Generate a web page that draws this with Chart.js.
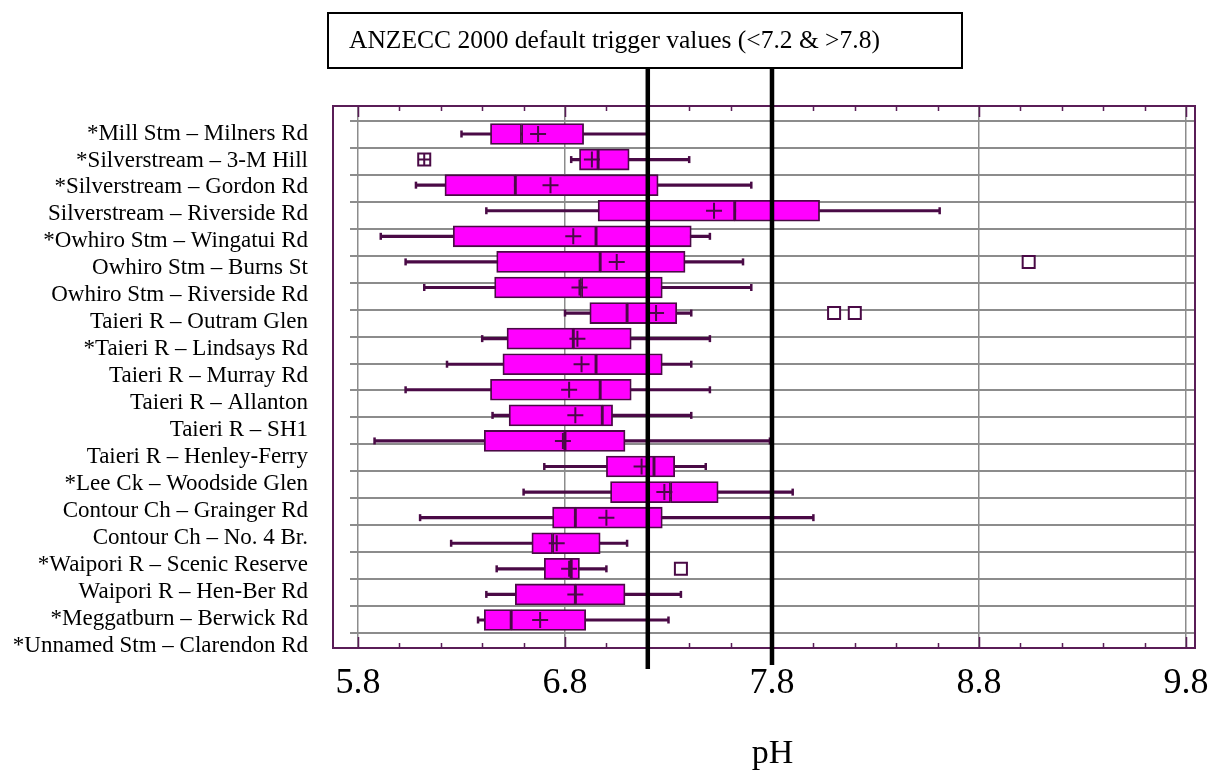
<!DOCTYPE html>
<html>
<head>
<meta charset="utf-8">
<script src="https://cdn.jsdelivr.net/npm/chart.js@4/dist/chart.umd.min.js"></script>
<style>
  body { margin: 0; background: #fff; }
  #wrap { width: 1212px; height: 770px; }
</style>
</head>
<body>
<div id="wrap"><canvas id="chart" width="1212" height="770"></canvas></div>
<script>
// pH box plots by site

const sites = [
    '*Mill Stm \u2013 Milners Rd',
    '*Silverstream \u2013 3-M Hill',
    '*Silverstream \u2013 Gordon Rd',
    'Silverstream \u2013 Riverside Rd',
    '*Owhiro Stm \u2013 Wingatui Rd',
    'Owhiro Stm \u2013 Burns St',
    'Owhiro Stm \u2013 Riverside Rd',
    'Taieri R \u2013 Outram Glen',
    '*Taieri R \u2013 Lindsays Rd',
    'Taieri R \u2013 Murray Rd',
    'Taieri R \u2013 Allanton',
    'Taieri R \u2013 SH1',
    'Taieri R \u2013 Henley-Ferry',
    '*Lee Ck \u2013 Woodside Glen',
    'Contour Ch \u2013 Grainger Rd',
    'Contour Ch \u2013 No. 4 Br.',
    '*Waipori R \u2013 Scenic Reserve',
    'Waipori R \u2013 Hen-Ber Rd',
    '*Meggatburn \u2013 Berwick Rd',
    '*Unnamed Stm \u2013 Clarendon Rd'
];

const whiskerLow  = [6.30, 6.83, 6.08, 6.42, 5.91, 6.03, 6.12, 6.80, 6.40, 6.23, 6.03, 6.45, 5.88, 6.70, 6.60, 6.10, 6.25, 6.47, 6.42, 6.38];
const q1          = [6.44, 6.87, 6.22, 6.96, 6.26, 6.47, 6.46, 6.92, 6.52, 6.50, 6.44, 6.53, 6.41, 7.00, 7.02, 6.74, 6.64, 6.70, 6.56, 6.41];
const median      = [6.59, 6.96, 6.56, 7.62, 6.95, 6.97, 6.88, 7.10, 6.84, 6.95, 6.97, 6.98, 6.80, 7.23, 7.31, 6.85, 6.74, 6.83, 6.85, 6.54];
const mean        = [6.67, 6.93, 6.73, 7.52, 6.84, 7.05, 6.87, 7.24, 6.86, 6.88, 6.82, 6.85, 6.79, 7.17, 7.28, 7.00, 6.76, 6.82, 6.85, 6.68];
const q3          = [6.89, 7.11, 7.25, 8.03, 7.41, 7.38, 7.27, 7.34, 7.12, 7.27, 7.12, 7.03, 7.09, 7.33, 7.54, 7.27, 6.97, 6.87, 7.09, 6.90];
const whiskerHigh = [7.20, 7.40, 7.70, 8.61, 7.50, 7.66, 7.70, 7.41, 7.50, 7.41, 7.50, 7.41, 7.79, 7.48, 7.90, 8.00, 7.10, 7.00, 7.36, 7.30];

// [site index, pH]
const outliers = [[1, 6.12], [5, 9.04], [7, 8.10], [7, 8.20], [17, 7.36]];
const crossedOutliers = [[1, 6.12]];

const tickValues = [5.8, 6.8, 7.8, 8.8, 9.8];
const tickLabels = ['5.8', '6.8', '7.8', '8.8', '9.8'];
const triggerValues = [7.2, 7.8];
const triggerText = 'ANZECC 2000 default trigger values (<7.2 & >7.8)';

const FONT = "'Liberation Serif', 'Times New Roman', serif";
const DARK = '#4a0a46';
const FRAME = '#5a1d57';

// frame, minor ticks, trigger lines and the note box
const extrasPlugin = {
    id: 'extras',
    afterDatasetsDraw(chart) {
        const ctx = chart.ctx;
        const x = chart.scales.x;
        const area = chart.chartArea;
        const left = area.left - 17;

        ctx.save();
        // frame
        ctx.strokeStyle = FRAME;
        ctx.lineWidth = 2;
        ctx.strokeRect(left, area.top, area.right - left, area.bottom - area.top);

        // minor ticks every 0.2 on top and bottom
        ctx.lineWidth = 1.5;
        for (let k = 0; k <= 20; k++) {
            const v = 5.8 + k * 0.2;
            const px = Math.round(x.getPixelForValue(v)) + 0.5;
            const len = (k % 5 === 0) ? 11 : 5;
            ctx.beginPath();
            ctx.moveTo(px, area.top);
            ctx.lineTo(px, area.top + len);
            ctx.moveTo(px, area.bottom);
            ctx.lineTo(px, area.bottom - len);
            ctx.stroke();
        }

        // trigger lines
        ctx.strokeStyle = '#000';
        ctx.lineWidth = 4.5;
        triggerValues.forEach((v, i) => {
            const px = x.getPixelForValue(v);
            ctx.beginPath();
            ctx.moveTo(px, 67);
            ctx.lineTo(px, i === 0 ? 669 : 665);
            ctx.stroke();
        });

        // note box
        ctx.fillStyle = '#fff';
        ctx.fillRect(328, 13, 634, 55);
        ctx.strokeStyle = '#000';
        ctx.lineWidth = 2;
        ctx.strokeRect(328, 13, 634, 55);
        ctx.fillStyle = '#000';
        ctx.font = '25.5px ' + FONT;
        ctx.textBaseline = 'middle';
        ctx.textAlign = 'left';
        ctx.fillText(triggerText, 349, 41);
        ctx.restore();
    }
};

const rows = sites.map((s, i) => i);

new Chart(document.getElementById('chart'), {
    type: 'bar',
    data: {
        datasets: [
            {
                label: 'whisker',
                data: rows.map(i => ({ y: i, x: [whiskerLow[i], whiskerHigh[i]] })),
                backgroundColor: DARK,
                borderWidth: 0,
                barThickness: 2.5,
                grouped: false,
                indexAxis: 'y',
                xAxisID: 'x',
                yAxisID: 'yb',
                order: 5
            },
            {
                label: 'lower box',
                data: rows.map(i => ({ y: i, x: [q1[i], median[i]] })),
                backgroundColor: '#ff00ff',
                borderColor: DARK,
                borderWidth: 1.8,
                borderSkipped: false,
                barThickness: 21,
                grouped: false,
                indexAxis: 'y',
                xAxisID: 'x',
                yAxisID: 'yb',
                order: 3
            },
            {
                label: 'upper box',
                data: rows.map(i => ({ y: i, x: [median[i], q3[i]] })),
                backgroundColor: '#ff00ff',
                borderColor: DARK,
                borderWidth: 1.8,
                borderSkipped: false,
                barThickness: 21,
                grouped: false,
                indexAxis: 'y',
                xAxisID: 'x',
                yAxisID: 'yb',
                order: 3
            },
            {
                type: 'scatter',
                label: 'caps',
                data: rows.flatMap(i => [{ x: whiskerLow[i], y: i }, { x: whiskerHigh[i], y: i }]),
                pointStyle: 'line',
                rotation: 90,
                radius: 3.5,
                borderWidth: 2.5,
                borderColor: DARK,
                xAxisID: 'x',
                yAxisID: 'yb',
                order: 4
            },
            {
                type: 'scatter',
                label: 'mean',
                data: rows.map(i => ({ x: mean[i], y: i })),
                pointStyle: 'cross',
                radius: 8,
                borderWidth: 2,
                borderColor: DARK,
                xAxisID: 'x',
                yAxisID: 'yb',
                order: 1
            },
            {
                type: 'scatter',
                label: 'outliers',
                data: outliers.map(o => ({ x: o[1], y: o[0] })),
                pointStyle: 'rect',
                radius: 8.5,
                backgroundColor: '#fff',
                borderWidth: 2,
                borderColor: DARK,
                xAxisID: 'x',
                yAxisID: 'yb',
                order: 1
            },
            {
                type: 'scatter',
                label: 'crossed',
                data: crossedOutliers.map(o => ({ x: o[1], y: o[0] })),
                pointStyle: 'cross',
                radius: 6,
                borderWidth: 2,
                borderColor: DARK,
                xAxisID: 'x',
                yAxisID: 'yb',
                order: 0
            }
        ]
    },
    options: {
        indexAxis: 'y',
        responsive: false,
        animation: false,
        events: [],
        layout: { padding: { top: 106, left: 10, right: 17, bottom: 0 } },
        plugins: {
            legend: { display: false },
            tooltip: { enabled: false }
        },
        scales: {
            x: {
                type: 'linear',
                position: 'bottom',
                min: 5.7614,
                max: 9.8435,
                afterBuildTicks: scale => {
                    scale.ticks = tickValues.map(v => ({ value: v }));
                },
                afterFit: scale => {
                    scale.height = 122;
                    scale.paddingLeft = 0;
                    scale.paddingRight = 0;
                },
                grid: { color: '#8c8c8c', lineWidth: 1.5, drawTicks: false },
                border: { display: false },
                ticks: {
                    color: '#000',
                    padding: 14,
                    maxRotation: 0,
                    autoSkip: false,
                    font: { family: FONT, size: 36 },
                    callback: (v, i) => tickLabels[i]
                },
                title: {
                    display: true,
                    text: 'pH',
                    color: '#000',
                    padding: { top: 0, bottom: -4 },
                    font: { family: FONT, size: 34 }
                }
            },
            yl: {
                type: 'linear',
                position: 'left',
                reverse: true,
                offset: false,
                min: -0.557,
                max: 19.557,
                afterBuildTicks: scale => {
                    scale.ticks = sites.map((s, i) => ({ value: i }));
                },
                afterFit: scale => {
                    scale.width = 340;
                    scale.paddingTop = 0;
                    scale.paddingBottom = 0;
                },
                grid: { color: '#8c8c8c', lineWidth: 2, drawTicks: false, offset: false },
                border: { display: false },
                ticks: {
                    color: '#000',
                    padding: 42,
                    labelOffset: 12.5,
                    autoSkip: false,
                    font: { family: FONT, size: 23 },
                    callback: v => sites[v]
                }
            },
            yb: {
                type: 'linear',
                position: 'left',
                reverse: true,
                offset: false,
                min: -1.095,
                max: 20.095,
                afterFit: scale => {
                    scale.width = 0;
                    scale.paddingTop = 0;
                    scale.paddingBottom = 0;
                },
                grid: { display: false, drawTicks: false, offset: false },
                border: { display: false },
                ticks: { display: false }
            }
        }
    },
    plugins: [extrasPlugin]
});
</script>
</body>
</html>
